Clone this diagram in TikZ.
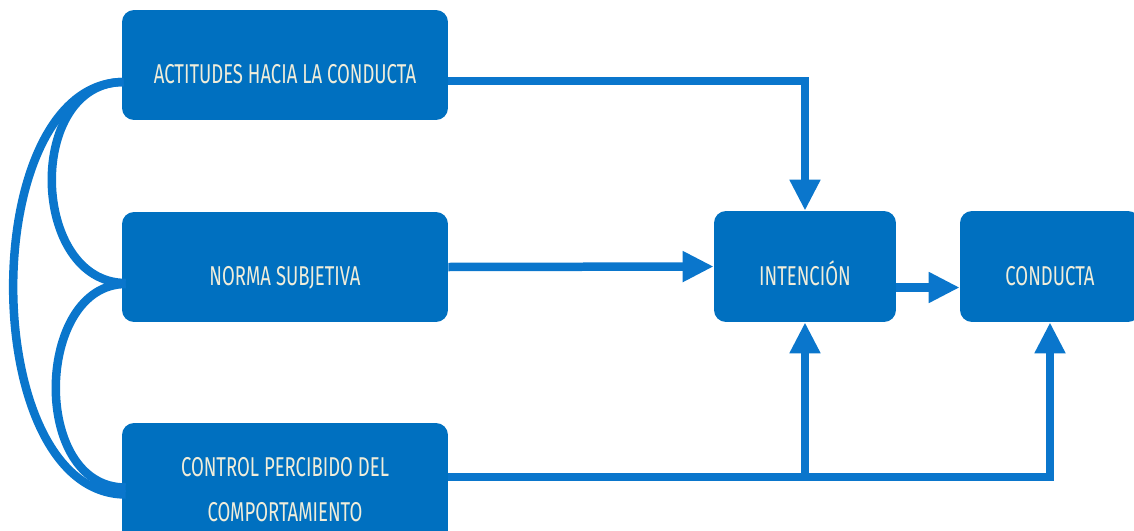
\documentclass[tikz,border=0pt]{standalone}
\usepackage{fontspec}
\newfontfamily\boxfont[FakeStretch=0.68]{Fira Sans}
\usetikzlibrary{arrows.meta,calc}
\definecolor{boxblue}{HTML}{0070C0}
\definecolor{lineblue}{HTML}{0A76CC}
\definecolor{boxtext}{HTML}{F0EDDA}
\begin{document}
\begin{tikzpicture}[x=0.02cm,y=-0.02cm,
  box/.style={fill=boxblue, rounded corners=0.24cm, text=boxtext,
    font=\boxfont\fontsize{15.5pt}{25.6pt}\selectfont, align=center, inner sep=0pt},
  onebox/.style={box, text height=0.76cm, text depth=0pt},
  conn/.style={draw=lineblue, line width=0.17cm},
  arr/.style={conn, -{Triangle[width=0.58cm,length=0.62cm]}},
]
\path[use as bounding box, clip] (0,0) rectangle (1134,531);

% boxes
\node[onebox, minimum width=6.52cm, minimum height=2.2cm] (A) at (285,65) {ACTITUDES HACIA LA CONDUCTA};
\node[onebox, minimum width=6.52cm, minimum height=2.2cm] (N) at (285,267) {NORMA SUBJETIVA};
\node[box, minimum width=6.52cm, minimum height=2.66cm] (C) at (285,489.5) {CONTROL PERCIBIDO DEL\\COMPORTAMIENTO};
\node[onebox, minimum width=3.64cm, minimum height=2.22cm] (I) at (805,266.5) {INTENCIÓN};
\node[onebox, minimum width=3.6cm, minimum height=2.22cm] (K) at (1050,266.5) {CONDUCTA};

% arrows into the intention and behaviour boxes
\draw[arr] ($(A.east)+(0,16)$) -| (I.north);
\draw[arr] (N.east) -- (I.west);
\draw[arr] ($(I.east)+(0,21)$) -- ($(K.west)+(0,21)$);
\draw[arr] ($(C.east)+(0,-12.5)$) coordinate (cl) -| (K.south);
\draw[arr] (I.south |- cl) -- (I.south);

% correlations between the three antecedents
\draw[conn] ($(A.west)+(2,17)$) .. controls (25,82) and (30,283) .. ($(N.west)+(4,16)$);
\draw[conn] ($(N.west)+(4,17)$) .. controls (35,284) and (30,488) .. ($(C.west)+(4,-2)$);
\draw[conn] ($(A.west)+(2,17)$) .. controls (-24,82) and (-24,494) .. ($(C.west)+(4,5)$);
\end{tikzpicture}
\end{document}
